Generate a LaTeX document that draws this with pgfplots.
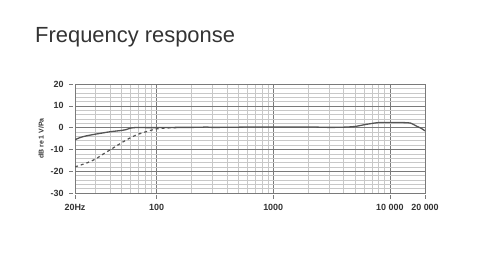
\documentclass[border=0pt]{standalone}
\usepackage{pgfplots}
\pgfplotsset{compat=1.18}
\usepackage{fontspec}
\setmainfont{Liberation Sans}
\definecolor{txt}{HTML}{333333}
\definecolor{curve}{HTML}{555555}
\definecolor{minorg}{HTML}{C8C8C8}
\definecolor{majorg}{HTML}{7A7A7A}
\begin{document}
\begin{tikzpicture}
\path[use as bounding box] (0,0) rectangle (500bp,262bp);
\node[anchor=base west, inner sep=0, font=\fontsize{22}{24}\selectfont, text=txt] at (35bp,219bp) {Frequency response};
\begin{axis}[
  at={(75bp,69bp)}, anchor=south west,
  scale only axis, width=350bp, height=109bp,
  xmode=log, xmin=20, xmax=20000, ymin=-30, ymax=20,
  xtick={20,100,1000,10000,20000},
  xticklabels={20Hz,100,1000,10 000,20 000},
  minor xtick={30,40,50,60,70,80,90,200,300,400,500,600,700,800,900,2000,3000,4000,5000,6000,7000,8000,9000},
  ytick={-30,-20,-10,0,10,20},
  minor ytick={-28,-26,-24,-22,-18,-16,-14,-12,-8,-6,-4,-2,2,4,6,8,12,14,16,18},
  xtick pos=bottom, ytick pos=left,
  grid=both,
  minor grid style={minorg, line width=0.4bp},
  major grid style={majorg, line width=0.5bp},
  axis line style={majorg, line width=0.6bp},
  tick align=outside, major tick length=4bp, minor tick length=0pt,
  tick style={majorg, line width=0.5bp},
  xtick style={yshift=-2bp},
  ytick style={xshift=-2bp},
  ticklabel style={font=\fontsize{9}{10}\selectfont\bfseries, text=txt},
  xticklabel style={yshift=-4bp},
  yticklabel style={xshift=-4bp},
  /pgf/number format/assume math mode=true,
  yticklabel={\pgfmathprintnumber{\tick}},
  ylabel={dB re 1 V/Pa},
  ylabel style={font=\fontsize{7}{8}\selectfont\bfseries, text=txt, yshift=0bp},
  clip=true,
]
\addplot[curve, line width=1.3bp, smooth] coordinates {
(20,-5.6) (22,-4.6) (25,-3.8) (30,-3.0) (35,-2.4) (40,-1.9) (50,-1.3) (55,-0.9) (60,-0.2) (65,0) (80,0) (100,0) (150,0.1) (200,0.1) (250,0.2) (270,0.3) (300,0.1) (500,0.2) (700,0.3) (1000,0.3) (2000,0.3) (3000,0.1) (4000,0.2) (5000,0.5) (6000,1.3) (7000,1.9) (8000,2.3) (10000,2.3) (13000,2.3) (15000,2.1) (16000,1.4) (17000,0.6) (18500,-0.3) (20000,-1.5)
};
\addplot[curve, line width=1.2bp, dashed, smooth] coordinates {
(20,-18) (25,-16.3) (30,-14.4) (35,-12.1) (40,-10.2) (50,-7.0) (60,-4.6) (70,-3.0) (80,-2.0) (90,-1.2) (100,-0.6) (120,-0.2) (150,0)
};
\end{axis}
\end{tikzpicture}
\end{document}
